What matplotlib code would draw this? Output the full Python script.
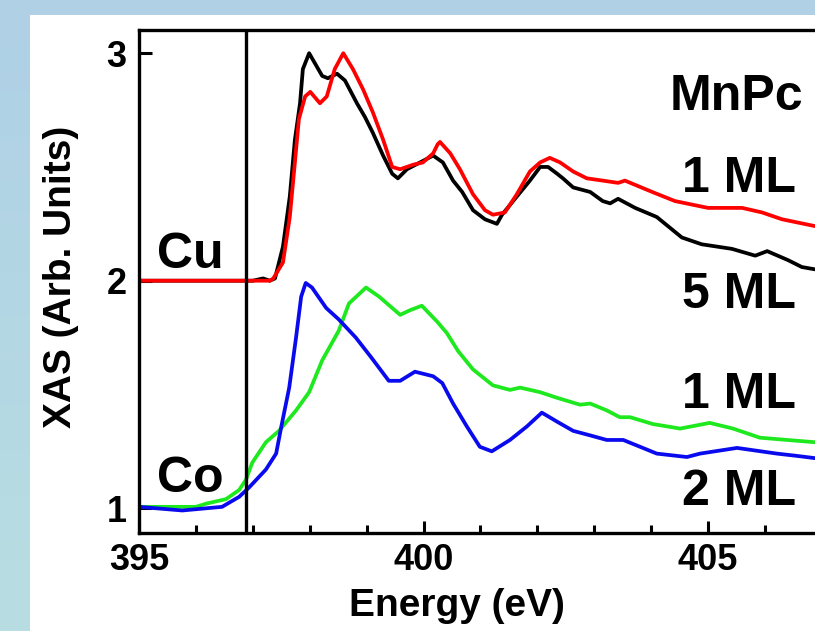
import numpy as np
import matplotlib
matplotlib.use('Agg')
import matplotlib.pyplot as plt
from matplotlib.ticker import MultipleLocator
from matplotlib.patches import Rectangle

plt.rcParams['font.family'] = ['Liberation Sans', 'DejaVu Sans']
plt.rcParams['font.weight'] = 'bold'

# Cu substrate, MnPc 5 ML (black)
cu5_e = [395.0, 397.0, 397.18, 397.30, 397.39, 397.53, 397.65, 397.74, 397.83, 397.88,
         397.99, 398.22, 398.32, 398.48, 398.62, 398.83, 398.97, 399.11, 399.29, 399.45,
         399.55, 399.71, 399.94, 400.17, 400.34, 400.52, 400.68, 400.87, 401.08, 401.29,
         401.38, 401.64, 401.87, 402.05, 402.19, 402.35, 402.45, 402.63, 402.93, 403.15,
         403.28, 403.42, 403.72, 404.10, 404.54, 404.89, 405.42, 405.83, 406.04, 406.41,
         406.65, 406.88, 407.0]
cu5_y = [2.0, 2.0, 2.01, 2.0, 2.01, 2.15, 2.37, 2.62, 2.78, 2.93,
         3.0, 2.90, 2.89, 2.91, 2.88, 2.78, 2.72, 2.65, 2.55, 2.47,
         2.45, 2.49, 2.52, 2.55, 2.52, 2.44, 2.39, 2.31, 2.27, 2.25,
         2.29, 2.37, 2.44, 2.50, 2.50, 2.47, 2.45, 2.41, 2.39, 2.35,
         2.34, 2.36, 2.32, 2.28, 2.19, 2.16, 2.14, 2.11, 2.13, 2.09,
         2.06, 2.05, 2.045]

# Cu substrate, MnPc 1 ML (red)
cu1_e = [395.0, 397.3, 397.36, 397.53, 397.65, 397.74, 397.81, 397.92, 398.01, 398.18,
         398.30, 398.44, 398.59, 398.76, 398.94, 399.11, 399.29, 399.45, 399.59, 399.82,
         399.99, 400.17, 400.25, 400.29, 400.47, 400.64, 400.87, 401.08, 401.22, 401.43,
         401.64, 401.87, 402.05, 402.22, 402.40, 402.63, 402.87, 403.15, 403.42, 403.54,
         404.02, 404.42, 405.00, 405.60, 405.95, 406.30, 406.88, 407.0]
cu1_y = [2.0, 2.0, 2.01, 2.08, 2.28, 2.52, 2.71, 2.81, 2.83, 2.78,
         2.81, 2.93, 3.0, 2.93, 2.84, 2.74, 2.62, 2.50, 2.49, 2.51,
         2.52, 2.56, 2.60, 2.61, 2.56, 2.49, 2.38, 2.31, 2.29, 2.30,
         2.38, 2.48, 2.52, 2.54, 2.52, 2.48, 2.45, 2.44, 2.43, 2.44,
         2.39, 2.35, 2.32, 2.32, 2.30, 2.27, 2.24, 2.235]

# Co substrate, MnPc 2 ML (blue)
co2_e = [395.0, 395.76, 396.46, 396.76, 396.93, 397.23, 397.41, 397.51, 397.64, 397.76,
         397.85, 397.93, 398.04, 398.29, 398.51, 398.81, 399.09, 399.39, 399.52, 399.59,
         399.85, 400.17, 400.33, 400.52, 400.76, 400.99, 401.20, 401.52, 401.82, 402.08,
         402.35, 402.63, 402.93, 403.22, 403.51, 404.10, 404.63, 404.86, 405.51, 406.21,
         406.56, 406.88, 407.0]
co2_y = [1.006, 0.99, 1.006, 1.05, 1.09, 1.17, 1.24, 1.37, 1.53, 1.75,
         1.93, 1.99, 1.97, 1.88, 1.83, 1.75, 1.66, 1.56, 1.56, 1.56,
         1.60, 1.58, 1.55, 1.46, 1.36, 1.27, 1.25, 1.30, 1.36, 1.42,
         1.38, 1.34, 1.32, 1.30, 1.30, 1.24, 1.225, 1.24, 1.265, 1.24,
         1.23, 1.22, 1.215]

# Co substrate, MnPc 1 ML (green)
co1_e = [395.0, 396.0, 396.18, 396.53, 396.76, 396.88, 396.99, 397.23, 397.46, 397.76,
         397.99, 398.22, 398.51, 398.69, 398.99, 399.22, 399.45, 399.59, 399.76, 399.97,
         400.24, 400.41, 400.61, 400.87, 401.22, 401.52, 401.70, 402.05, 402.35, 402.75,
         402.93, 403.22, 403.45, 403.63, 404.03, 404.51, 405.03, 405.44, 405.91, 406.39,
         406.88, 407.0]
co1_y = [1.006, 1.006, 1.02, 1.04, 1.08, 1.125, 1.20, 1.29, 1.34, 1.43,
         1.51, 1.65, 1.78, 1.90, 1.97, 1.93, 1.88, 1.85, 1.87, 1.89,
         1.82, 1.77, 1.69, 1.61, 1.54, 1.52, 1.53, 1.51, 1.485, 1.455,
         1.46, 1.43, 1.40, 1.40, 1.37, 1.35, 1.375, 1.35, 1.31, 1.30,
         1.29, 1.285]

edge_e = 396.88
x_ticks = [395, 400, 405]
y_ticks = [1, 2, 3]

fig = plt.figure(figsize=(8.15, 6.31), dpi=100)

# light blue slide background with white panel
bg = fig.add_axes([0, 0, 1, 1], zorder=-10)
grad = np.linspace(0, 1, 256).reshape(-1, 1)
top_c = np.array([175, 208, 230]) / 255
bot_c = np.array([184, 222, 226]) / 255
img = top_c[None, None, :] * (1 - grad[:, :, None]) + bot_c[None, None, :] * grad[:, :, None]
bg.imshow(img, aspect='auto', extent=[0, 1, 0, 1], transform=bg.transAxes)
bg.add_patch(Rectangle((30 / 815, 0), 1, (631 - 15) / 631, transform=bg.transAxes,
                       facecolor='white', edgecolor='none'))
bg.set_xlim(0, 1); bg.set_ylim(0, 1)
bg.axis('off')

ax = fig.add_axes([139 / 815, 98 / 631, 682.8 / 815, 503 / 631])
line_kw = dict(lw=2.7, solid_joinstyle='round', solid_capstyle='round')
ax.plot(cu5_e, cu5_y, color='black', **line_kw)
ax.plot(cu1_e, cu1_y, color='#ff0000', **line_kw)
ax.plot(co1_e, co1_y, color='#1ee81e', **line_kw)
ax.plot(co2_e, co2_y, color='#0a0aee', **line_kw)
ax.axvline(edge_e, color='black', lw=2.4)

ax.set_xlim(395, 407)
ax.set_ylim(0.891, 3.102)
ax.set_xticks(x_ticks)
ax.set_yticks(y_ticks)
ax.xaxis.set_minor_locator(MultipleLocator(1))
ax.tick_params(axis='both', which='major', direction='in', length=9, width=2.2,
               labelsize=26, top=False, right=False)
ax.tick_params(axis='x', which='major', pad=7)
ax.tick_params(axis='y', which='major', pad=9)
ax.tick_params(axis='x', which='minor', direction='in', length=5.5, width=2.2, top=False)
for s in ax.spines.values():
    s.set_linewidth(2.4)
for lab in ax.get_xticklabels() + ax.get_yticklabels():
    lab.set_fontweight('bold')

fig.text(457 / 815, 1 - 606 / 631, 'Energy (eV)', ha='center', va='center',
         fontsize=28, fontweight='bold')
fig.text(61 / 815, 1 - 277 / 631, 'XAS (Arb. Units)', ha='center', va='center',
         rotation=90, fontsize=28, fontweight='bold')

lab_kw = dict(fontsize=36, fontweight='bold', va='baseline')
ax.text(395.32, 2.056, 'Cu', ha='left', **lab_kw)
ax.text(395.32, 1.072, 'Co', ha='left', **lab_kw)
ax.text(406.68, 2.751, 'MnPc', ha='right', **lab_kw)
ax.text(406.55, 2.392, '1 ML', ha='right', **lab_kw)
ax.text(406.55, 1.880, '5 ML', ha='right', **lab_kw)
ax.text(406.55, 1.441, '1 ML', ha='right', **lab_kw)
ax.text(406.55, 1.0145, '2 ML', ha='right', **lab_kw)

fig.savefig('out.png', dpi=100)
